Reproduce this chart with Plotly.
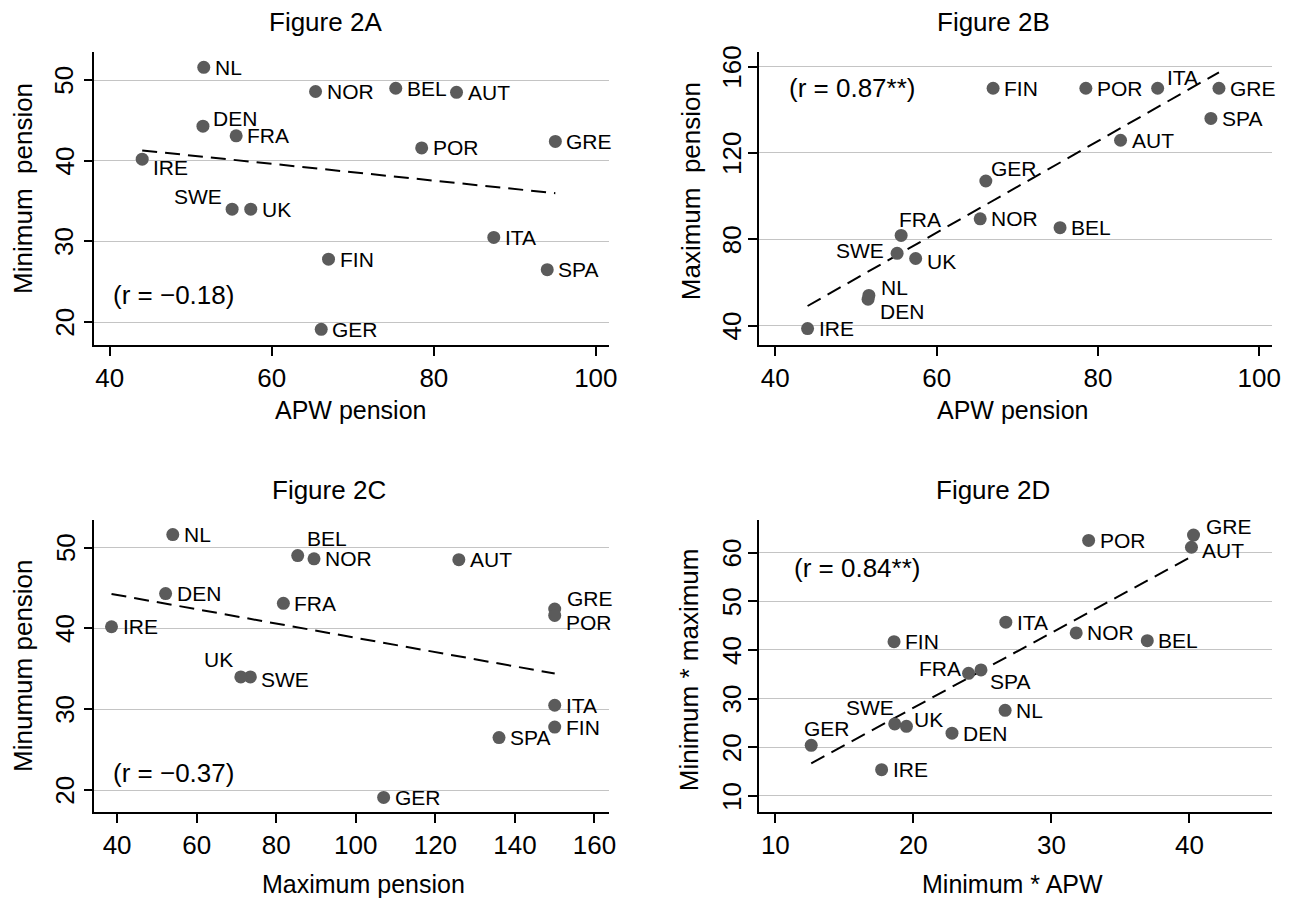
import numpy as np
import plotly.graph_objects as go

countries = ["AUT", "BEL", "DEN", "FIN", "FRA", "GER", "GRE", "IRE", "ITA", "NL", "NOR", "POR", "SPA", "SWE", "UK"]
apw_pension = [82.8, 75.3, 51.5, 67.0, 55.6, 66.1, 95.0, 44.0, 87.4, 51.6, 65.4, 78.5, 94.0, 55.1, 57.4]
min_pension = [48.5, 49.0, 44.3, 27.8, 43.1, 19.1, 42.4, 40.2, 30.5, 51.6, 48.6, 41.6, 26.5, 34.0, 34.0]
max_pension = [125.9, 85.4, 52.2, 150.0, 81.8, 107.0, 150.0, 38.6, 150.0, 54.0, 89.5, 150.0, 136.0, 73.5, 71.1]
min_x_apw = [40.15, 36.95, 22.8, 18.6, 24.0, 12.6, 40.3, 17.7, 26.7, 26.65, 31.8, 32.7, 24.9, 18.65, 19.5]
min_x_max = [61.1, 41.9, 22.9, 41.7, 35.2, 20.4, 63.6, 15.4, 45.7, 27.6, 43.5, 62.5, 35.9, 24.8, 24.3]

r_texts = ["(r = \u22120.18)", "(r = 0.87**)", "(r = \u22120.37)", "(r = 0.84**)"]
panel_titles = ["Figure 2A", "Figure 2B", "Figure 2C", "Figure 2D"]
x_titles = ["APW pension", "APW pension", "Maximum pension", "Minimum * APW"]
y_titles = ["Minimum\u00a0 pension", "Maximum\u00a0 pension", "Minumum pension", "Minimum * maximum"]
x_ticks = [[40, 60, 80, 100], [40, 60, 80, 100], [40, 60, 80, 100, 120, 140, 160], [10, 20, 30, 40]]
y_ticks = [[20, 30, 40, 50], [40, 80, 120, 160], [20, 30, 40, 50], [10, 20, 30, 40, 50, 60]]

FONT = "Liberation Sans, Arial, sans-serif"
W, H = 1301, 899
OFF = 8  # page body margin in the browser


def px_x(p):
    return (p - OFF) / W


def px_y(p):
    return 1 - (p - OFF) / H


panels = [
    dict(x=apw_pension, y=min_pension, xr=[38.1, 101.6], yr=[17.15, 53.5],
         px=(95, 613), py=(52, 345), rpos=(40.1, 23.4),
         title_c=(328, 22), xt_c=(353, 410), yt_c=(23, 188), ytl=65,
         lab={"DEN": ("left", 8, 8), "IRE": ("left", 9, -8), "SWE": ("right", -8, 13)}),
    dict(x=apw_pension, y=max_pension, xr=[37.95, 101.6], yr=[31.0, 166.8],
         px=(764, 1281), py=(52, 345), rpos=(41.5, 150.1),
         title_c=(1000, 22), xt_c=(1020, 410), yt_c=(696, 191), ytl=737,
         lab={"FRA": ("left", -4, 16), "SWE": ("right", -11, 3), "ITA": ("left", 7, 11),
              "GER": ("left", 3, 13), "NL": ("left", 10, 8), "DEN": ("left", 10, -12),
              "UK": ("left", 9, -3)}),
    dict(x=max_pension, y=min_pension, xr=[34.3, 163.6], yr=[17.3, 53.4],
         px=(95, 613), py=(520, 812), rpos=(38.4, 22.1),
         title_c=(331, 490), xt_c=(366, 884), yt_c=(23, 666), ytl=66,
         lab={"BEL": ("left", 7, 17), "UK": ("right", -6, 17), "SWE": ("left", 9, -3),
              "GRE": ("left", 10, 10), "POR": ("left", 9, -7)}),
    dict(x=min_x_apw, y=min_x_max, xr=[8.8, 46.0], yr=[6.7, 66.7],
         px=(764, 1281), py=(520, 812), rpos=(11.2, 56.8),
         title_c=(1000, 490), xt_c=(1019, 884), yt_c=(694, 670), ytl=737,
         lab={"GRE": ("left", 10, 9), "AUT": ("left", 9, -3), "FRA": ("right", -6, 5),
              "SPA": ("left", 7, -12), "SWE": ("right", 1, 16), "UK": ("left", 6, 7),
              "GER": ("left", -9, 17)}),
]

fig = go.Figure()
annotations = []
layout = {}

for i, p in enumerate(panels):
    n = "" if i == 0 else str(i + 1)
    xa, ya = "x" + n, "y" + n
    xs = np.array(p["x"], dtype=float)
    ys = np.array(p["y"], dtype=float)

    # fitted regression line
    slope, intercept = np.polyfit(xs, ys, 1)
    lx = np.array([xs.min(), xs.max()])
    fig.add_trace(go.Scatter(x=lx, y=intercept + slope * lx, mode="lines",
                             line=dict(color="black", width=2, dash="15px,8px"),
                             xaxis=xa, yaxis=ya, showlegend=False, hoverinfo="skip"))
    fig.add_trace(go.Scatter(x=xs, y=ys, mode="markers", text=countries,
                             marker=dict(size=13, color="#5b5b5b"),
                             xaxis=xa, yaxis=ya, showlegend=False))

    for c, xv, yv in zip(countries, xs, ys):
        anc, xsh, ysh = p["lab"].get(c, ("left", 9, 0))
        annotations.append(dict(x=xv, y=yv, xref=xa, yref=ya, text=c, showarrow=False,
                                xanchor=anc, yanchor="middle", xshift=xsh, yshift=ysh,
                                font=dict(family=FONT, size=21, color="black")))

    annotations.append(dict(x=p["rpos"][0], y=p["rpos"][1], xref=xa, yref=ya, text=r_texts[i],
                            showarrow=False, xanchor="left", yanchor="middle",
                            font=dict(family=FONT, size=26, color="black")))

    # rotated y tick labels
    for t in y_ticks[i]:
        annotations.append(dict(x=px_x(p["ytl"]), y=t, xref="paper", yref=ya, text=str(t),
                                showarrow=False, xanchor="center", yanchor="middle", textangle=-90,
                                font=dict(family=FONT, size=26, color="black")))

    # titles
    annotations.append(dict(x=px_x(p["title_c"][0]), y=px_y(p["title_c"][1]), xref="paper", yref="paper",
                            text=panel_titles[i], showarrow=False, xanchor="center", yanchor="middle",
                            font=dict(family=FONT, size=26, color="black")))
    annotations.append(dict(x=px_x(p["xt_c"][0]), y=px_y(p["xt_c"][1]), xref="paper", yref="paper",
                            text=x_titles[i], showarrow=False, xanchor="center", yanchor="middle",
                            font=dict(family=FONT, size=25, color="black")))
    annotations.append(dict(x=px_x(p["yt_c"][0]), y=px_y(p["yt_c"][1]), xref="paper", yref="paper",
                            text=y_titles[i], showarrow=False, xanchor="center", yanchor="middle",
                            textangle=-90, font=dict(family=FONT, size=26, color="black")))

    axis_common = dict(showline=True, linecolor="black", linewidth=1.5, ticks="outside",
                       ticklen=9, tickwidth=1.5, tickcolor="black", zeroline=False,
                       tickfont=dict(family=FONT, size=26, color="black"))
    layout["xaxis" + n] = dict(domain=[px_x(p["px"][0]), px_x(p["px"][1])], range=p["xr"],
                               tickvals=x_ticks[i], showgrid=False, anchor=ya, **axis_common)
    layout["yaxis" + n] = dict(domain=[px_y(p["py"][1]), px_y(p["py"][0])], range=p["yr"],
                               tickvals=y_ticks[i], showticklabels=False,
                               showgrid=True, gridcolor="#c4c4c4", gridwidth=1.2,
                               anchor=xa, **axis_common)

fig.update_layout(width=W, height=H, margin=dict(l=0, r=0, t=0, b=0),
                  plot_bgcolor="white", paper_bgcolor="white",
                  annotations=annotations, **layout)

fig.write_html("out.html")
